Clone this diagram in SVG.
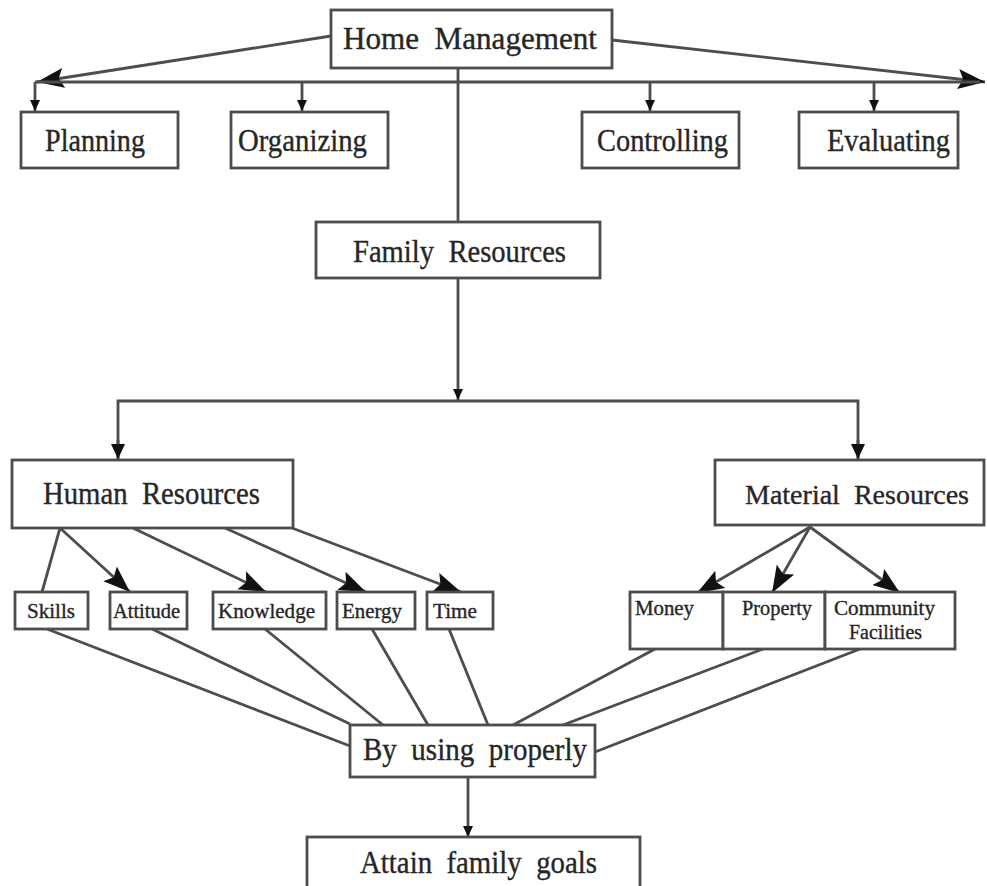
<svg xmlns="http://www.w3.org/2000/svg" width="987" height="886" viewBox="0 0 987 886">
<defs>
<style>
.box{fill:#fff;stroke:#4d4d4d;stroke-width:2.8}
.ln{fill:none;stroke:#4d4d4d;stroke-width:2.8}
text{font-family:"Liberation Serif","Times New Roman",serif;fill:#262626;stroke:#262626;stroke-width:0.35;white-space:pre}
.t1{font-size:31px}
.t2{font-size:20px}
</style>
<marker id="sm" markerUnits="userSpaceOnUse" markerWidth="12" markerHeight="12" refX="11" refY="6" orient="auto"><path d="M0,1 L11,6 L0,11 z" fill="#111"/></marker>
<marker id="md" markerUnits="userSpaceOnUse" markerWidth="16" markerHeight="18" refX="15" refY="9" orient="auto"><path d="M0,2 L15,9 L0,16 z" fill="#111"/></marker>
<marker id="bg" markerUnits="userSpaceOnUse" markerWidth="28" markerHeight="24" refX="27" refY="12" orient="auto"><path d="M0,2 L27,12 L0,22 L5,12 z" fill="#111"/></marker>
</defs>
<g id="connectors">
<line class="ln" x1="331" y1="36" x2="37" y2="82" marker-end="url(#bg)"/>
<line class="ln" x1="612" y1="40" x2="985" y2="82" marker-end="url(#bg)"/>
<line class="ln" x1="35" y1="82" x2="980" y2="82"/>
<line class="ln" x1="35" y1="82" x2="35" y2="111" marker-end="url(#sm)"/>
<line class="ln" x1="302" y1="82" x2="302" y2="111" marker-end="url(#sm)"/>
<line class="ln" x1="650" y1="82" x2="650" y2="111" marker-end="url(#sm)"/>
<line class="ln" x1="874" y1="82" x2="874" y2="111" marker-end="url(#sm)"/>
<line class="ln" x1="458" y1="68" x2="458" y2="222"/>
<line class="ln" x1="458" y1="278" x2="458" y2="400" marker-end="url(#sm)"/>
<polyline class="ln" points="118,459 118,401 858,401 858,459"/>
<line class="ln" x1="118" y1="440" x2="118" y2="459" marker-end="url(#md)"/>
<line class="ln" x1="858" y1="440" x2="858" y2="459" marker-end="url(#md)"/>
<line class="ln" x1="60" y1="528" x2="42" y2="592"/>
<line class="ln" x1="60" y1="528" x2="130" y2="592" marker-end="url(#bg)"/>
<line class="ln" x1="133" y1="528" x2="266" y2="592" marker-end="url(#bg)"/>
<line class="ln" x1="225" y1="528" x2="366" y2="592" marker-end="url(#bg)"/>
<line class="ln" x1="292" y1="528" x2="461" y2="592" marker-end="url(#bg)"/>
<line class="ln" x1="810" y1="527" x2="697" y2="593" marker-end="url(#bg)"/>
<line class="ln" x1="810" y1="527" x2="772" y2="593" marker-end="url(#bg)"/>
<line class="ln" x1="810" y1="527" x2="900" y2="593" marker-end="url(#bg)"/>
<line class="ln" x1="47" y1="629" x2="350" y2="746"/>
<line class="ln" x1="152" y1="629" x2="350" y2="724"/>
<line class="ln" x1="265" y1="629" x2="383" y2="725"/>
<line class="ln" x1="372" y1="629" x2="428" y2="725"/>
<line class="ln" x1="449" y1="629" x2="488" y2="725"/>
<line class="ln" x1="655" y1="649" x2="513" y2="725"/>
<line class="ln" x1="763" y1="649" x2="563" y2="725"/>
<line class="ln" x1="860" y1="649" x2="595" y2="752"/>
<line class="ln" x1="468" y1="777" x2="468" y2="837" marker-end="url(#sm)"/>
</g>
<g id="home-management"><rect class="box" x="331" y="10" width="281" height="58"/><text class="t1" x="343" y="49" textLength="254" lengthAdjust="spacingAndGlyphs" xml:space="preserve">Home  Management</text></g>
<g id="planning"><rect class="box" x="21" y="112" width="157" height="56"/><text class="t1" x="45" y="151" textLength="100" lengthAdjust="spacingAndGlyphs">Planning</text></g>
<g id="organizing"><rect class="box" x="231" y="112" width="157" height="56"/><text class="t1" x="238" y="151" textLength="129" lengthAdjust="spacingAndGlyphs">Organizing</text></g>
<g id="controlling"><rect class="box" x="582" y="112" width="157" height="56"/><text class="t1" x="597" y="151" textLength="131" lengthAdjust="spacingAndGlyphs">Controlling</text></g>
<g id="evaluating"><rect class="box" x="799" y="112" width="159" height="56"/><text class="t1" x="827" y="151" textLength="123" lengthAdjust="spacingAndGlyphs">Evaluating</text></g>
<g id="family-resources"><rect class="box" x="316" y="222" width="284" height="56"/><text class="t1" x="353" y="262" textLength="213" lengthAdjust="spacingAndGlyphs" xml:space="preserve">Family  Resources</text></g>
<g id="human-resources"><rect class="box" x="12" y="460" width="281" height="68"/><text class="t1" x="43" y="504" textLength="217" lengthAdjust="spacingAndGlyphs" xml:space="preserve">Human  Resources</text></g>
<g id="material-resources"><rect class="box" x="715" y="460" width="269" height="65"/><text class="t1" x="745" y="504" style="font-size:28px" textLength="224" lengthAdjust="spacingAndGlyphs" xml:space="preserve">Material  Resources</text></g>
<g id="skills"><rect class="box" x="15" y="592" width="73" height="37"/><text class="t2" x="27" y="618" textLength="48" lengthAdjust="spacingAndGlyphs">Skills</text></g>
<g id="attitude"><rect class="box" x="110" y="592" width="77" height="37"/><text class="t2" x="113" y="618" textLength="67" lengthAdjust="spacingAndGlyphs">Attitude</text></g>
<g id="knowledge"><rect class="box" x="213" y="592" width="113" height="37"/><text class="t2" x="218" y="618" textLength="97" lengthAdjust="spacingAndGlyphs">Knowledge</text></g>
<g id="energy"><rect class="box" x="337" y="592" width="78" height="37"/><text class="t2" x="342" y="618" textLength="60" lengthAdjust="spacingAndGlyphs">Energy</text></g>
<g id="time"><rect class="box" x="427" y="592" width="66" height="37"/><text class="t2" x="433" y="618" textLength="44" lengthAdjust="spacingAndGlyphs">Time</text></g>
<g id="money"><rect class="box" x="630" y="592" width="93" height="57"/><text class="t2" x="635" y="615" textLength="59" lengthAdjust="spacingAndGlyphs">Money</text></g>
<g id="property"><rect class="box" x="723" y="592" width="102" height="57"/><text class="t2" x="742" y="615" textLength="70" lengthAdjust="spacingAndGlyphs">Property</text></g>
<g id="community-facilities"><rect class="box" x="825" y="592" width="130" height="57"/><text class="t2" x="834" y="615" textLength="101" lengthAdjust="spacingAndGlyphs">Community</text><text class="t2" x="849" y="639" textLength="73" lengthAdjust="spacingAndGlyphs">Facilities</text></g>
<g id="by-using-properly"><rect class="box" x="350" y="725" width="245" height="52"/><text class="t1" x="363" y="760" textLength="224" lengthAdjust="spacingAndGlyphs" xml:space="preserve">By  using  properly</text></g>
<g id="attain-family-goals"><rect class="box" x="307" y="837" width="333" height="60"/><text class="t1" x="360" y="873" textLength="237" lengthAdjust="spacingAndGlyphs" xml:space="preserve">Attain  family  goals</text></g>
</svg>
